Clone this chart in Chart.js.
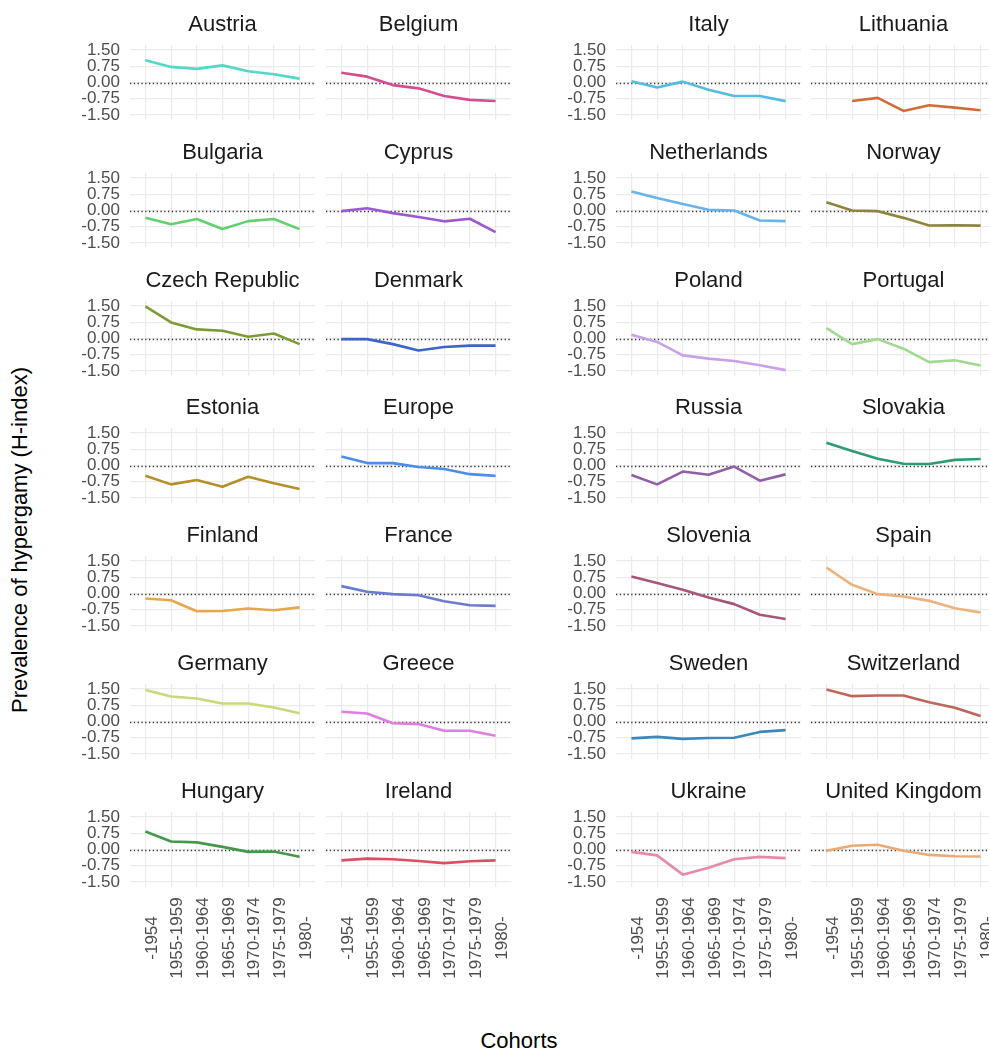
<!DOCTYPE html>
<html>
<head>
<meta charset="utf-8">
<title>Prevalence of hypergamy by birth cohort</title>
<script src="https://cdn.jsdelivr.net/npm/chart.js@4.4.1/dist/chart.umd.min.js"></script>
<style>
  html, body { margin: 0; padding: 0; background: #ffffff; overflow: hidden; }
  #page { position: relative; width: 989px; height: 1050px; overflow: hidden;
          font-family: "Liberation Sans", Arial, Helvetica, sans-serif; }
  #page canvas { position: absolute; }
  .axis-title { position: absolute; font-size: 22px; color: #000; white-space: nowrap;
                transform: translate(-50%, -50%); }
  #ytitle { left: 20px; top: 540px; transform: translate(-50%, -50%) rotate(-90deg); }
  #xtitle { left: 519px; top: 1041px; }
</style>
</head>
<body>
<div id="page">
  <div class="axis-title" id="ytitle">Prevalence of hypergamy (H-index)</div>
  <div class="axis-title" id="xtitle">Cohorts</div>
</div>
<script>
// Birth cohorts on the x axis
const cohorts = ["-1954", "1955-1959", "1960-1964", "1965-1969", "1970-1974", "1975-1979", "1980-"];
// Tick values on the y axis
const yTicks = [-1.5, -0.75, 0, 0.75, 1.5];

// H-index per cohort, one array per country (null = no estimate)
const austria     = [1.03, 0.72, 0.63, 0.79, 0.52, 0.38, 0.18];
const belgium     = [0.45, 0.27, -0.12, -0.27, -0.62, -0.80, -0.85];
const bulgaria    = [-0.33, -0.63, -0.39, -0.85, -0.49, -0.39, -0.86];
const cyprus      = [-0.03, 0.10, -0.12, -0.30, -0.50, -0.38, -1.00];
const czechRep    = [1.48, 0.74, 0.42, 0.36, 0.08, 0.23, -0.26];
const denmark     = [-0.03, -0.03, -0.26, -0.55, -0.39, -0.33, -0.33];
const estonia     = [-0.47, -0.87, -0.67, -0.98, -0.52, -0.82, -1.08];
const europe      = [0.42, 0.11, 0.11, -0.07, -0.16, -0.40, -0.48];
const finland     = [-0.23, -0.31, -0.82, -0.81, -0.69, -0.77, -0.64];
const france      = [0.34, 0.08, -0.03, -0.08, -0.36, -0.54, -0.57];
const germany     = [1.45, 1.15, 1.06, 0.83, 0.83, 0.65, 0.38];
const greece      = [0.45, 0.37, -0.08, -0.12, -0.43, -0.43, -0.66];
const hungary     = [0.83, 0.37, 0.33, 0.12, -0.11, -0.09, -0.33];
const ireland     = [-0.50, -0.42, -0.45, -0.53, -0.63, -0.54, -0.50];
const italy       = [0.06, -0.23, 0.04, -0.33, -0.62, -0.62, -0.86];
const lithuania   = [null, -0.85, -0.71, -1.31, -1.05, -1.16, -1.28];
const netherlands = [0.88, 0.58, 0.30, 0.03, 0.00, -0.46, -0.49];
const norway      = [0.38, 0.00, -0.03, -0.34, -0.69, -0.68, -0.70];
const poland      = [0.17, -0.16, -0.78, -0.93, -1.04, -1.23, -1.46];
const portugal    = [0.48, -0.26, -0.03, -0.47, -1.09, -1.00, -1.25];
const russia      = [-0.44, -0.87, -0.28, -0.43, -0.05, -0.70, -0.41];
const slovakia    = [1.05, 0.67, 0.31, 0.08, 0.07, 0.26, 0.30];
const slovenia    = [0.78, 0.48, 0.17, -0.18, -0.49, -0.98, -1.18];
const spain       = [1.20, 0.40, -0.03, -0.14, -0.34, -0.68, -0.88];
const sweden      = [-0.78, -0.71, -0.80, -0.76, -0.75, -0.48, -0.40];
const switzerland = [1.48, 1.17, 1.20, 1.20, 0.89, 0.63, 0.25];
const ukraine     = [-0.11, -0.27, -1.16, -0.84, -0.45, -0.34, -0.40];
const unitedKingdom = [-0.06, 0.17, 0.22, -0.06, -0.25, -0.31, -0.32];

// Panel titles, in facet order (alphabetical, filled row by row in two blocks)
const countries = [
  "Austria", "Belgium", "Bulgaria", "Cyprus", "Czech Republic", "Denmark", "Estonia",
  "Europe", "Finland", "France", "Germany", "Greece", "Hungary", "Ireland",
  "Italy", "Lithuania", "Netherlands", "Norway", "Poland", "Portugal", "Russia",
  "Slovakia", "Slovenia", "Spain", "Sweden", "Switzerland", "Ukraine", "United Kingdom"
];
const seriesValues = [
  austria, belgium, bulgaria, cyprus, czechRep, denmark, estonia,
  europe, finland, france, germany, greece, hungary, ireland,
  italy, lithuania, netherlands, norway, poland, portugal, russia,
  slovakia, slovenia, spain, sweden, switzerland, ukraine, unitedKingdom
];
const lineColours = [
  "#53d8c5", "#d44d8f", "#63d06f", "#9b59cf", "#7c9b35", "#3d65c9", "#b58f2a",
  "#4b8ee6", "#e6a84a", "#6a7bd0", "#cad77a", "#e07de0", "#43984a", "#da5060",
  "#52bde0", "#d06c3a", "#68b3ea", "#8c853e", "#c9a1ea", "#a0d98f", "#8f5fa8",
  "#2f9b72", "#a8557a", "#ebb27c", "#3c87bb", "#bf6659", "#e989aa", "#eaaa73"
];

// ---- layout of the facet grid ----
const FONT = '"Liberation Sans", Arial, Helvetica, sans-serif';
const colLeft = [129.6, 326.3, 615.6, 811.3];   // left edge of each plot column
const plotW = 185, plotH = 75;
const rowTop0 = 45, rowStep = 127.8;
const titleBand = 45;      // height above the plot holding the facet title
const labelBand = 100;     // room under the bottom row for cohort labels
const footBand = 12;       // spare room under the other rows
const yLabelBand = 60;     // room left of columns 1 and 3 for y tick labels
const gridColour = "#ebebeb";

// dotted reference line at zero
const zeroLine = {
  id: "zeroLine",
  beforeDatasetsDraw(chart) {
    const { ctx, chartArea: a, scales: { y } } = chart;
    const py = Math.round(y.getPixelForValue(0)) + 0.5;
    ctx.save();
    ctx.strokeStyle = "#333333";
    ctx.lineWidth = 1.3;
    ctx.setLineDash([1.3, 2.5]);
    ctx.beginPath();
    ctx.moveTo(a.left, py);
    ctx.lineTo(a.right, py);
    ctx.stroke();
    ctx.restore();
  }
};

// vertical cohort labels, centred under each tick
const cohortLabels = {
  id: "cohortLabels",
  afterDraw(chart, args, opts) {
    if (!opts.show) return;
    const { ctx, chartArea: a, scales: { x } } = chart;
    ctx.save();
    ctx.font = "17px " + FONT;
    ctx.fillStyle = "#4d4d4d";
    ctx.textAlign = "center";
    ctx.textBaseline = "middle";
    x.ticks.forEach(t => {
      ctx.save();
      ctx.translate(x.getPixelForValue(t.value) + 6.5, a.bottom + 51);
      ctx.rotate(-Math.PI / 2);
      ctx.fillText(cohorts[t.value], 0, 0);
      ctx.restore();
    });
    ctx.restore();
  }
};

const page = document.getElementById("page");

countries.forEach((name, i) => {
  const block = i < 14 ? 0 : 1;
  const k = i % 14;
  const row = Math.floor(k / 2);
  const col = block * 2 + (k % 2);
  const showY = col === 0 || col === 2;
  const isBottom = row === 6;
  const yw = showY ? yLabelBand : 0;
  const bottomPad = isBottom ? labelBand : footBand;

  const plotLeft = Math.round(colLeft[col]);
  const plotTop = Math.round(rowTop0 + rowStep * row);

  const canvas = document.createElement("canvas");
  canvas.width = yw + plotW;
  canvas.height = titleBand + plotH + bottomPad;
  canvas.style.left = (plotLeft - yw) + "px";
  canvas.style.top = (plotTop - titleBand) + "px";
  page.appendChild(canvas);

  const points = seriesValues[i]
    .map((v, j) => ({ x: j, y: v }))
    .filter(p => p.y !== null);

  new Chart(canvas, {
    type: "line",
    data: {
      datasets: [{
        data: points,
        borderColor: lineColours[i],
        borderWidth: 2.6,
        borderJoinStyle: "round",
        pointRadius: 0,
        tension: 0,
        fill: false
      }]
    },
    options: {
      responsive: false,
      animation: false,
      events: [],
      layout: { padding: { left: 0, right: 0, top: 0, bottom: bottomPad } },
      plugins: {
        legend: { display: false },
        tooltip: { enabled: false },
        title: {
          display: true,
          text: name,
          fullSize: false,
          color: "#1a1a1a",
          font: { size: 22, family: FONT, weight: "normal", lineHeight: 1 },
          padding: { top: 14, bottom: 9 }
        },
        cohortLabels: { show: isBottom }
      },
      scales: {
        x: {
          type: "linear",
          min: -0.6,
          max: cohorts.length - 0.4,
          afterBuildTicks: s => { s.ticks = cohorts.map((c, j) => ({ value: j })); },
          afterFit: s => {
            s.height = 0;
            s.paddingLeft = s.paddingRight = s.paddingTop = s.paddingBottom = 0;
          },
          ticks: { display: false },
          grid: { color: gridColour, lineWidth: 1.2, drawTicks: false },
          border: { display: false }
        },
        y: {
          type: "linear",
          min: -1.73,
          max: 1.73,
          afterBuildTicks: s => { s.ticks = yTicks.map(v => ({ value: v })); },
          afterFit: s => {
            s.width = yw;
            s.paddingLeft = s.paddingRight = s.paddingTop = s.paddingBottom = 0;
          },
          ticks: {
            display: showY,
            autoSkip: false,
            padding: 10,
            color: "#4d4d4d",
            font: { size: 17, family: FONT },
            callback: v => Number(v).toFixed(2)
          },
          grid: { color: gridColour, lineWidth: 1.2, drawTicks: false },
          border: { display: false }
        }
      }
    },
    plugins: [zeroLine, cohortLabels]
  });
});
</script>
</body>
</html>
